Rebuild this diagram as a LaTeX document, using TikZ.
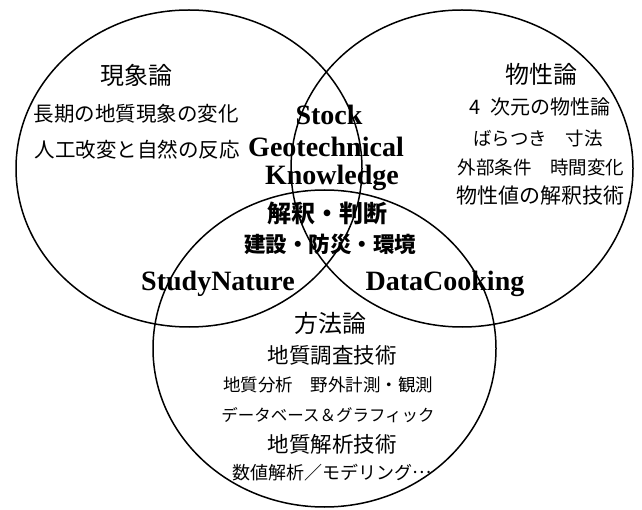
\documentclass[tikz,border=0pt]{standalone}
\usepackage{fontspec}
\setmainfont{Liberation Serif}
\newfontfamily\jp{Noto Sans CJK JP}
\begin{document}
\begin{tikzpicture}[x=1pt,y=-1pt,
  ring/.style={line width=1.5pt,black},
  jt/.style={inner sep=0pt,anchor=center,font=\jp\fontsize{#1}{#1}\selectfont},
  jb/.style={inner sep=0pt,anchor=center,font=\jp\bfseries\fontsize{#1}{#1}\selectfont},
  en/.style={inner sep=0pt,anchor=base,font=\bfseries\fontsize{28}{28}\selectfont}]
\useasboundingbox (0,0) rectangle (642,510);
\draw[ring] (189,168.5) ellipse [x radius=173pt, y radius=158.5pt];
\draw[ring] (462,168.5) ellipse [x radius=171pt, y radius=158.5pt];
\draw[ring] (324.5,348.5) ellipse [x radius=171.5pt, y radius=158.5pt];
% left
\node[jt=24] (gen) at (136,75) {現象論};
\node[jt=20.5] (gen1) at (136,114) {長期の地質現象の変化};
\node[jt=20.5] (gen2) at (137,150) {人工改変と自然の反応};
% right
\node[jt=24] (bus) at (541,74) {物性論};
\node[jt=20] (bus1) at (540,107) {4\hspace{0.5em}次元の物性論};
\node[jt=18.5] (bus2) at (538,138) {ばらつき\hspace{1em}寸法};
\node[jt=18.5] (bus3) at (541,167) {外部条件\hspace{1em}時間変化};
\node[jt=21] (bus4) at (540,196) {物性値の解釈技術};
% centre
\node[en] (stock) at (329,125) {Stock};
\node[en] (geo) at (326,157) {Geotechnical};
\node[en] (know) at (332,185) {Knowledge};
\node[jb=24] (kai) at (327,213) {解釈・判断};
\node[jb=21.5] (ken) at (330,244) {建設・防災・環境};
\node[en] (sn) at (218,291) {StudyNature};
\node[en] (dc) at (445,291) {DataCooking};
% bottom
\node[jt=24] (hou) at (330,323) {方法論};
\node[jt=21.5] (hou1) at (332,355) {地質調査技術};
\node[jt=17.5] (hou2) at (328,385) {地質分析\hspace{1em}野外計測・観測};
\node[jt=16.5] (hou3) at (328,415) {データベース＆グラフィック};
\node[jt=21.5] (hou4) at (332,444) {地質解析技術};
\node[jt=18] (hou5) at (332,473) {数値解析／モデリング\raisebox{0.35em}{…}};
\end{tikzpicture}
\end{document}
